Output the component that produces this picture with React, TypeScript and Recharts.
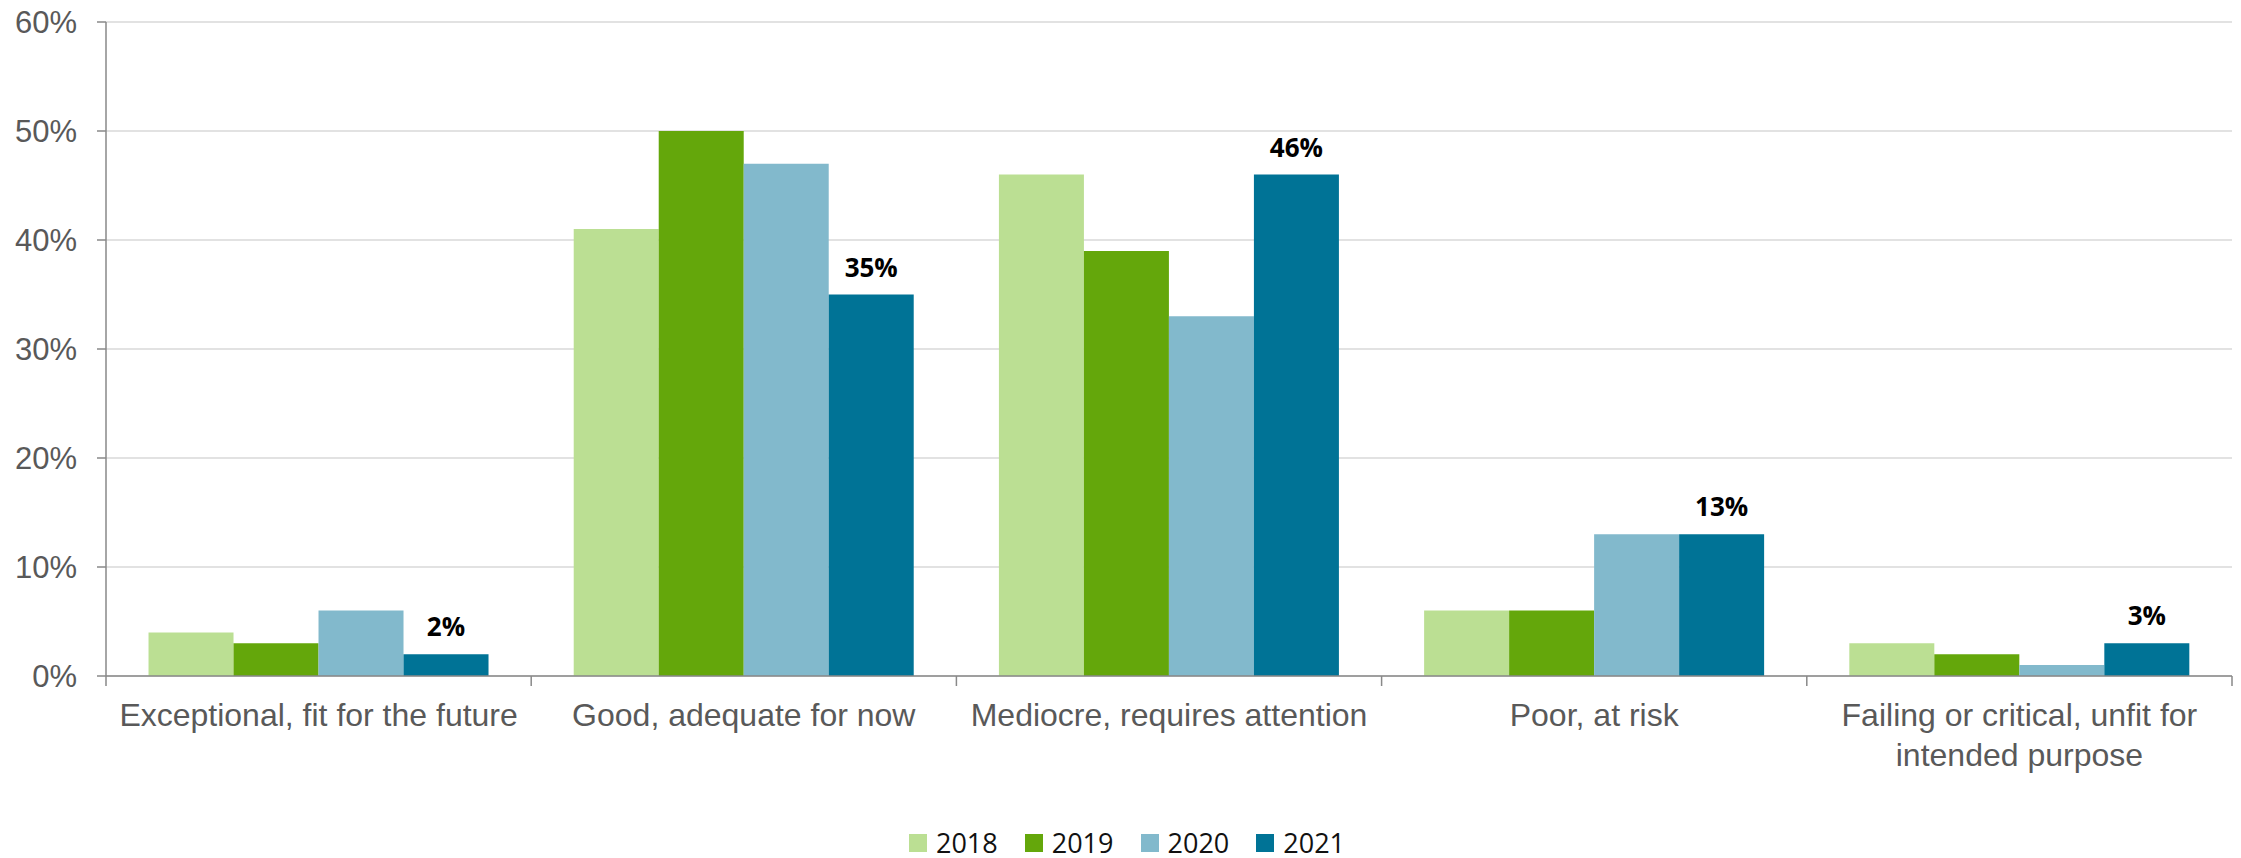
import {
  Bar,
  BarChart,
  CartesianGrid,
  LabelList,
  Legend,
  XAxis,
  YAxis,
} from "recharts";

const categories = [
  "Exceptional, fit for the future",
  "Good, adequate for now",
  "Mediocre, requires attention",
  "Poor, at risk",
  "Failing or critical, unfit for intended purpose",
];

const values2018 = [4, 41, 46, 6, 3];
const values2019 = [3, 50, 39, 6, 2];
const values2020 = [6, 47, 33, 13, 1];
const values2021 = [2, 35, 46, 13, 3];

const yTicks = [0, 10, 20, 30, 40, 50, 60];

const series = [
  { key: "y2018", name: "2018", color: "#BBDF93" },
  { key: "y2019", name: "2019", color: "#64A70B" },
  { key: "y2020", name: "2020", color: "#82B9CC" },
  { key: "y2021", name: "2021", color: "#007396" },
];

const data = categories.map((name, i) => ({
  name,
  y2018: values2018[i],
  y2019: values2019[i],
  y2020: values2020[i],
  y2021: values2021[i],
}));

const axisFont = "'Liberation Sans', Arial, sans-serif";
const labelFont = "'Open Sans', sans-serif";
const axisColor = "#898989";
const catFontSize = 32;
const catTickMargin = 27;

let measureCtx: CanvasRenderingContext2D | null = null;

// simple word wrap, measured with a canvas
function wrapWords(text: string, maxWidth: number): string[] {
  if (!measureCtx) measureCtx = document.createElement("canvas").getContext("2d");
  const ctx = measureCtx!;
  ctx.font = `${catFontSize}px 'Liberation Sans'`;
  const lines: string[] = [];
  let line = "";
  for (const word of text.split(" ")) {
    const next = line ? `${line} ${word}` : word;
    if (line && ctx.measureText(next).width > maxWidth) {
      lines.push(line);
      line = word;
    } else {
      line = next;
    }
  }
  if (line) lines.push(line);
  return lines;
}

// category label plus the tick marks between categories
function CategoryTick({ x, y, payload, index, visibleTicksCount }: any) {
  const lines = wrapWords(payload.value, 410);
  const half = payload.offset ?? 0;
  const axisY = y - catTickMargin;
  const isLast = index === visibleTicksCount - 1;
  return (
    <g>
      <line
        x1={x - half}
        x2={x - half}
        y1={axisY}
        y2={axisY + 10}
        stroke={axisColor}
        strokeWidth={1.5}
      />
      {isLast && (
        <line
          x1={x + half}
          x2={x + half}
          y1={axisY}
          y2={axisY + 10}
          stroke={axisColor}
          strokeWidth={1.5}
        />
      )}
      <text
        x={x}
        y={y}
        textAnchor="middle"
        fontSize={catFontSize}
        fontFamily={axisFont}
        fill="#595959"
      >
        {lines.map((l, i) => (
          <tspan key={i} x={x} dy={i === 0 ? "0.71em" : 40}>
            {l}
          </tspan>
        ))}
      </text>
    </g>
  );
}

function YearLegend() {
  return (
    <div
      style={{
        display: "flex",
        justifyContent: "center",
        gap: 27,
        paddingLeft: 22,
        fontFamily: labelFont,
        fontSize: 27,
        lineHeight: "30px",
        height: 30,
        color: "#111",
      }}
    >
      {series.map((s) => (
        <div key={s.key} style={{ display: "flex", alignItems: "center" }}>
          <span
            style={{
              display: "inline-block",
              width: 18,
              height: 18,
              background: s.color,
              marginRight: 9,
            }}
          />
          <span>{s.name}</span>
        </div>
      ))}
    </div>
  );
}

export default function App() {
  return (
    <div style={{ position: "absolute", left: 0, top: 0, background: "#fff" }}>
      <BarChart
        width={2241}
        height={858}
        data={data}
        margin={{ top: 22, right: 9, bottom: 0, left: 0 }}
        barCategoryGap="10%"
        barGap={0}
      >
        <CartesianGrid vertical={false} stroke="#d9d9d9" strokeWidth={1.5} />
        <XAxis
          dataKey="name"
          interval={0}
          height={152}
          stroke={axisColor}
          strokeWidth={1.5}
          tickLine={false}
          tickSize={0}
          tickMargin={catTickMargin}
          tick={<CategoryTick />}
        />
        <YAxis
          width={106}
          domain={[0, 60]}
          ticks={yTicks}
          tickFormatter={(v: number) => `${v}%`}
          tickSize={9}
          tickMargin={20}
          stroke={axisColor}
          strokeWidth={1.5}
          tick={{ fill: "#595959", fontSize: 31, fontFamily: axisFont }}
        />
        <Legend
          verticalAlign="bottom"
          content={<YearLegend />}
          wrapperStyle={{ bottom: 0 }}
        />
        {series.map((s) => (
          <Bar
            key={s.key}
            dataKey={s.key}
            name={s.name}
            fill={s.color}
            isAnimationActive={false}
          >
            {s.key === "y2021" && (
              <LabelList
                dataKey={s.key}
                position="top"
                offset={18}
                formatter={(v: number) => `${v}%`}
                fill="#000"
                fontSize={26}
                fontWeight={700}
                fontFamily={labelFont}
              />
            )}
          </Bar>
        ))}
      </BarChart>
    </div>
  );
}
